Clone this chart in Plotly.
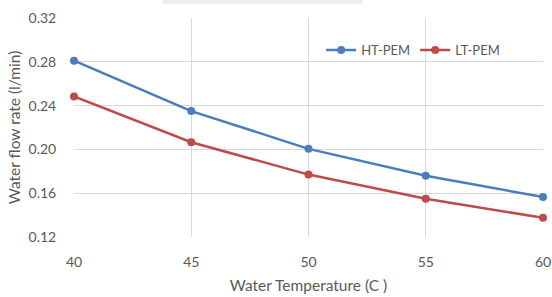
import plotly.graph_objects as go

temperature = [40, 45, 50, 55, 60]
ht_pem = [0.281, 0.235, 0.2005, 0.176, 0.1565]
lt_pem = [0.2484, 0.2065, 0.177, 0.155, 0.1375]
y_ticks = [0.12, 0.16, 0.20, 0.24, 0.28, 0.32]
y_tick_labels = ["0.12", "0.16", "0.20", "0.24", "0.28", "0.32"]
x_ticks = [40, 45, 50, 55, 60]

FONT = "Lato, 'Open Sans', sans-serif"
TXT = "#595959"
GRID = "#d9d9d9"

fig = go.Figure()
fig.add_trace(go.Scatter(x=temperature, y=ht_pem, name="HT-PEM", mode="lines+markers",
                         line=dict(color="#4a7ebb", width=2.5),
                         marker=dict(size=8, color="#4a7ebb"), cliponaxis=False))
fig.add_trace(go.Scatter(x=temperature, y=lt_pem, name="LT-PEM", mode="lines+markers",
                         line=dict(color="#be4b48", width=2.5),
                         marker=dict(size=8, color="#be4b48"), cliponaxis=False))

fig.update_layout(
    width=552, height=297,
    margin=dict(l=74, r=9, t=18, b=60),
    paper_bgcolor="white", plot_bgcolor="white",
    font=dict(family=FONT, size=14, color=TXT),
    showlegend=True,
    legend=dict(orientation="h", x=0.527, y=0.854, xanchor="left", yanchor="middle",
                font=dict(size=13, color=TXT), bgcolor="rgba(0,0,0,0)",
                itemwidth=30, tracegroupgap=0),
    xaxis=dict(range=[40, 60], tickvals=x_ticks, showgrid=True, gridcolor=GRID,
               gridwidth=1, zeroline=False, showline=False, automargin=False,
               ticks="outside", ticklen=12, tickcolor="rgba(0,0,0,0)",
               tickfont=dict(size=14, color=TXT),
               title=dict(text="Water Temperature (C )", font=dict(size=15.5, color=TXT), standoff=11)),
    yaxis=dict(range=[0.12, 0.32], tickvals=y_ticks, ticktext=y_tick_labels,
               showgrid=True, gridcolor=GRID, gridwidth=1, zeroline=False, showline=False,
               automargin=False,
               ticks="outside", ticklen=14, tickcolor="rgba(0,0,0,0)",
               tickfont=dict(size=14, color=TXT),
               title=dict(text="Water flow rate (l/min)", font=dict(size=15.5, color=TXT), standoff=4)),
    shapes=[dict(type="rect", xref="paper", yref="paper", x0=0.19, x1=0.615, y0=1.065, y1=1.085,
                 fillcolor="#ececec", line=dict(width=0), layer="below")],
)

fig.write_html("out.html", config={"displayModeBar": False},
               post_script="document.body.style.margin='0';")
